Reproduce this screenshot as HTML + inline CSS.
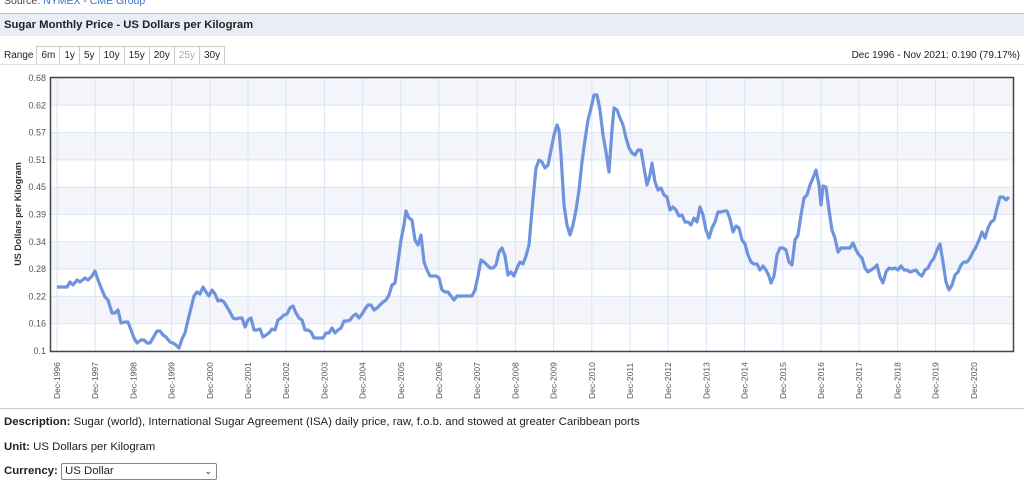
<!DOCTYPE html>
<html><head><meta charset="utf-8"><style>
body{margin:0;width:1024px;height:499px;overflow:hidden;background:#fff;font-family:"Liberation Sans",Arial,sans-serif;color:#222}
.src{position:absolute;left:4px;top:-5px;font-size:10.5px;color:#444}
.src a{color:#3a6fc4}
.hdr{position:absolute;left:0;top:13px;width:1024px;height:23px;background:#e8edf6;border-top:1px solid #b9c6dd;font-weight:bold;font-size:11.3px;line-height:23px;padding-left:4px;box-sizing:border-box}
.rng{position:absolute;left:4px;top:46px;font-size:10px;display:flex;align-items:center}
.btn{border:1px solid #ccc;padding:2px 4px;margin-left:-1px;background:#fff;height:13px;line-height:13px}
.rt{position:absolute;right:4px;top:50px;font-size:10px}
.sep{position:absolute;left:0;top:64px;width:1024px;height:1px;background:#ddd}
.sep2{position:absolute;left:0;top:408px;width:1024px;height:1px;background:#ccc}
.t{position:absolute;left:4px;font-size:11.4px}
</style></head><body>
<div class="src">Source: <a>NYMEX</a> - <a>CME Group</a></div>
<div class="hdr">Sugar Monthly Price - US Dollars per Kilogram</div>
<div class="rng"><span style="margin-right:4px">Range</span><span class="btn">6m</span><span class="btn">1y</span><span class="btn">5y</span><span class="btn">10y</span><span class="btn">15y</span><span class="btn">20y</span><span class="btn" style="color:#aaa">25y</span><span class="btn">30y</span></div>
<div class="rt">Dec 1996 - Nov 2021: 0.190 (79.17%)</div>
<div class="sep"></div>
<svg style="position:absolute;left:0;top:0" width="1024" height="410" font-family="Liberation Sans, Arial, sans-serif">
<g fill="#f3f5fb">
<rect x="51" y="78" width="962" height="27.3"/><rect x="51" y="132.6" width="962" height="27.3"/><rect x="51" y="187.2" width="962" height="27.3"/><rect x="51" y="241.8" width="962" height="27.3"/><rect x="51" y="296.4" width="962" height="27.3"/>
</g>
<g stroke="#d9e5f8" stroke-width="1" id="g"></g>
<g font-size="9" fill="#555" text-anchor="end" id="yl"></g>
<g font-size="8.5" fill="#555" id="xl"></g>
<text transform="translate(21,214) rotate(-90)" text-anchor="middle" font-size="9" font-weight="bold" fill="#333">US Dollars per Kilogram</text>
<polyline fill="none" stroke="#6f93dc" stroke-width="3.2" stroke-linejoin="round" points="57,287 67,287 70,282 73,285 77,280 80,282 85,278 88,280 92,276 95,271 98,280 102,290 105,297 108,300 112,313 115,313 118,310 121,323 125,322 128,322 131,330 134,338 137,343 141,340 144,340 147,343 150,343 153,338 157,331 160,331 163,335 166,337 170,342 173,343 176,345 179,348 182,339 185,333 188,320 191,308 194,296 197,292 200,294 203,287 206,292 209,296 212,290 215,294 218,301 221,300 224,302 227,307 230,312 233,318 236,319 239,318 242,318 245,327 248,320 251,318 254,330 257,330 260,329 263,337 266,335 269,333 272,329 275,330 278,320 281,318 284,315 287,314 290,308 293,306 296,313 299,318 302,320 305,330 308,330 311,332 314,338 317,338 320,338 323,338 326,333 329,333 332,328 335,333 338,330 341,328 344,321 347,321 350,320 353,316 356,314 359,318 362,314 365,309 368,305 371,305 374,310 377,308 380,305 383,302 386,300 389,295 392,285 395,283 398,262 401,240 404,225 406,211 409,218 412,220 415,240 418,245 421,235 424,262 427,270 430,276 433,276 436,276 439,278 442,290 445,292 448,292 451,296 454,300 457,296 460,296 463,296 466,296 469,296 472,296 475,290 478,276 481,260 484,262 487,265 490,268 493,268 496,265 499,252 502,248 505,256 508,275 511,272 514,276 517,268 520,262 523,264 526,256 529,245 532,210 536,168 539,160 542,162 545,168 548,165 551,150 554,135 557,125 559,130 561,155 564,205 567,225 570,235 573,225 576,210 579,190 582,162 585,140 588,120 591,108 594,95 597,95 600,110 603,135 606,152 609,172 612,130 614,108 617,110 620,118 623,125 626,138 629,148 632,153 635,155 638,150 641,150 644,168 647,185 650,175 652,163 655,182 658,190 661,188 664,195 667,197 670,210 673,207 676,210 679,216 682,215 685,222 688,222 691,225 694,218 697,222 700,207 703,215 706,230 709,238 712,228 715,222 718,212 721,212 724,211 727,211 730,219 733,232 736,226 739,228 742,240 745,244 748,255 751,262 754,264 757,264 760,270 763,266 766,270 769,276 771,283 774,276 777,255 780,248 783,248 786,250 789,262 792,265 795,240 798,235 801,215 804,198 807,195 810,185 813,178 816,170 819,185 821,205 823,186 826,187 829,210 832,230 835,238 838,252 841,248 844,248 847,248 850,248 853,243 856,250 859,255 862,258 865,268 868,272 871,270 874,268 877,265 880,277 883,283 886,272 889,268 892,269 895,268 898,270 901,266 904,270 907,270 910,272 913,271 916,270 919,274 922,276 925,270 928,268 931,262 934,258 937,250 940,244 943,262 946,282 949,290 952,285 955,275 958,272 961,265 964,262 967,262 970,258 973,252 976,247 979,240 982,232 985,238 988,228 991,222 994,220 997,208 1000,197 1003,197 1006,200 1009,197"/>
<rect x="50.5" y="77.5" width="963" height="274" fill="none" stroke="#444" stroke-width="1.5"/>
</svg>
<script>
var ns="http://www.w3.org/2000/svg",g=document.getElementById("g"),yl=document.getElementById("yl"),xl=document.getElementById("xl");
var ys=["0.68","0.62","0.57","0.51","0.45","0.39","0.34","0.28","0.22","0.16","0.1"];
ys.forEach(function(s,i){var y=78+i*27.3;var l=document.createElementNS(ns,"line");l.setAttribute("x1",51);l.setAttribute("x2",1013);l.setAttribute("y1",y);l.setAttribute("y2",y);g.appendChild(l);
var t=document.createElementNS(ns,"text");t.setAttribute("x",46);t.setAttribute("y",y+3);t.textContent=s;yl.appendChild(t);});
for(var k=0;k<25;k++){var x=57+k*38.2;var l=document.createElementNS(ns,"line");l.setAttribute("x1",x);l.setAttribute("x2",x);l.setAttribute("y1",78);l.setAttribute("y2",351);g.appendChild(l);
var t=document.createElementNS(ns,"text");t.setAttribute("transform","translate("+(x+3)+",399) rotate(-90)");t.textContent="Dec-"+(1996+k);xl.appendChild(t);}
</script>
<div class="sep2"></div>
<div class="t" style="top:416px"><b>Description:</b> Sugar (world), International Sugar Agreement (ISA) daily price, raw, f.o.b. and stowed at greater Caribbean ports</div>
<div class="t" style="top:441px"><b>Unit:</b> US Dollars per Kilogram</div>
<div class="t" style="top:463px"><b>Currency:</b> <span style="display:inline-block;width:148px;border:1px solid #888;border-radius:2px;padding:0 3px;height:15px;line-height:15px;position:relative">US Dollar<span style="position:absolute;right:4px;font-size:9px">&#8964;</span></span></div>
</body></html>
